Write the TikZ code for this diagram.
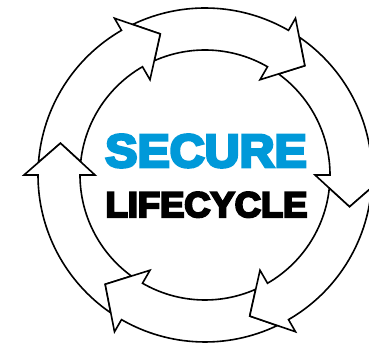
\documentclass[tikz,border=0pt]{standalone}
\usepackage{fontspec}
\setmainfont{Liberation Sans}
\newfontfamily\heavyfont[FakeBold=6]{Liberation Sans Bold}
\usetikzlibrary{arrows.meta,positioning}
\definecolor{secblue}{HTML}{0099D9}
\tikzset{
  ringarrow/.style={draw=black,fill=white,line width=1.6pt,line join=miter},
  headline/.style={inner sep=0pt,anchor=base}
}
\begin{document}
\begin{tikzpicture}[x=1pt,y=1pt]
  \useasboundingbox (0,0) rectangle (369,344);
  \clip (0,0) rectangle (369,344);
  % ring of six arrows, running clockwise
  \begin{scope}[shift={(205,169)}]
    \foreach \h in {0,60,120,180,240,300} {
      \draw[ringarrow] ({\h+55.64}:167) arc[start angle=\h+55.64, end angle=\h, radius=167]
        -- (\h:181) -- ({\h-12.4}:148) -- (\h:110) -- (\h:125)
        arc[start angle=\h, end angle=\h+53.91, radius=125]
        -- ({\h+47.6}:148) -- cycle;
    }
  \end{scope}
  % title in the middle
  \node[headline,text=secblue,font=\heavyfont\fontsize{46.5}{47}\selectfont,xscale=1.04] (secure) at (206,177) {SECURE};
  \node[headline,text=black,font=\heavyfont\fontsize{35.6}{36}\selectfont,xscale=1.02] (life) at (206.5,127) {LIFECYCLE};
\end{tikzpicture}
\end{document}
